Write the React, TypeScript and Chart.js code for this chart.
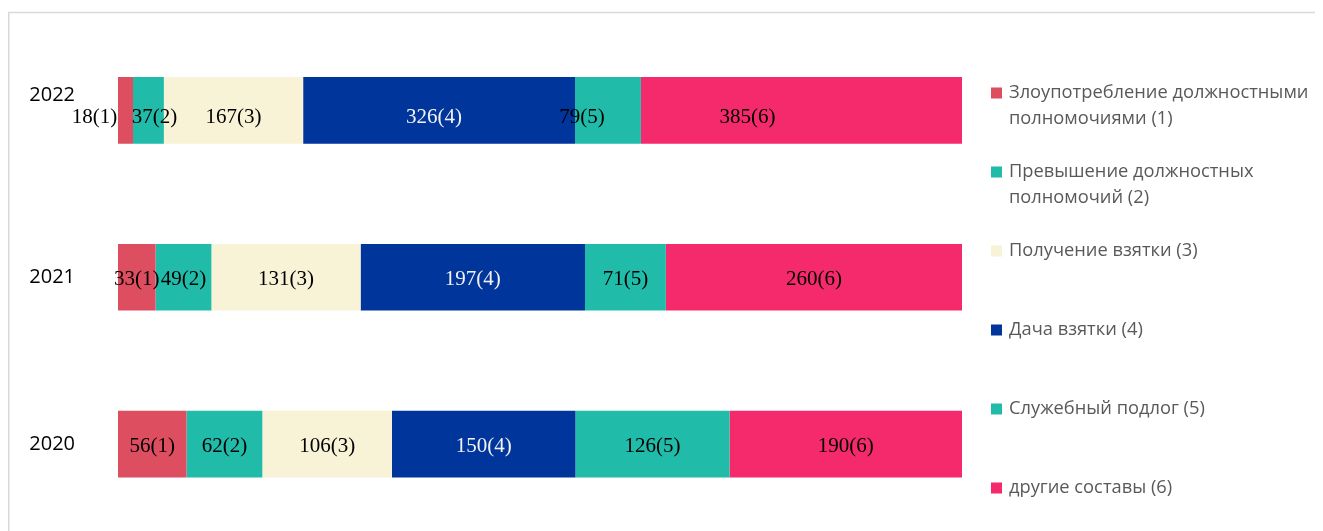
import React, { useEffect, useRef } from "react";
import { Chart, registerables } from "chart.js";

Chart.register(...registerables);

// ---- data ----
const YEARS = ["2022", "2021", "2020"];
const SERIES_NAMES = [
  "Злоупотребление должностными полномочиями (1)",
  "Превышение должностных полномочий (2)",
  "Получение взятки (3)",
  "Дача взятки (4)",
  "Служебный подлог (5)",
  "другие составы (6)",
];
const ABUSE = [18, 33, 56];
const EXCESS = [37, 49, 62];
const BRIBE_TAKING = [167, 131, 106];
const BRIBE_GIVING = [326, 197, 150];
const FORGERY = [79, 71, 126];
const OTHER = [385, 260, 190];
const SERIES_VALUES = [ABUSE, EXCESS, BRIBE_TAKING, BRIBE_GIVING, FORGERY, OTHER];

// ---- styles ----
const COLORS = ["#DC4E60", "#21BBA9", "#F8F2D7", "#00359C", "#21BBA9", "#F52A6C"];
const LABEL_COLORS = ["#000", "#000", "#000", "#f2f2f2", "#000", "#000"];
// manual label nudges for the top bar (as in the original)
const TOP_NUDGE_X = [-31, 6, 0, -5, -26, -54];

const totals = YEARS.map((_, i) => SERIES_VALUES.reduce((s, arr) => s + arr[i], 0));

const W = 1315;
const H = 523;
const SANS = "'Open Sans', 'Noto Sans', sans-serif";
const SERIF = "'Liberation Serif', 'Times New Roman', serif";

const borderPlugin = {
  id: "frame",
  beforeDraw(chart: any) {
    const ctx = chart.ctx;
    ctx.save();
    ctx.strokeStyle = "#d9d9d9";
    ctx.lineWidth = 1.5;
    ctx.beginPath();
    ctx.moveTo(0.75, H);
    ctx.lineTo(0.75, 4.5);
    ctx.lineTo(W, 4.5);
    ctx.stroke();
    ctx.restore();
  },
};

const labelPlugin = {
  id: "segLabels",
  afterDatasetsDraw(chart: any) {
    const ctx = chart.ctx;
    ctx.save();
    ctx.font = `21px ${SERIF}`;
    ctx.textAlign = "center";
    ctx.textBaseline = "middle";
    chart.data.datasets.forEach((ds: any, di: number) => {
      const meta = chart.getDatasetMeta(di);
      meta.data.forEach((bar: any, i: number) => {
        const raw = SERIES_VALUES[di][i];
        const cx = (bar.x + bar.base) / 2 + (i === 0 ? TOP_NUDGE_X[di] : 0);
        const cy = bar.y + (i === 0 ? 7 : 2);
        ctx.fillStyle = LABEL_COLORS[di];
        ctx.fillText(`${raw}(${di + 1})`, cx, cy);
      });
    });
    ctx.restore();
  },
};

function wrap(ctx: CanvasRenderingContext2D, text: string, maxW: number): string[] {
  const words = text.split(" ");
  const lines: string[] = [];
  let cur = "";
  for (const w of words) {
    const t = cur ? cur + " " + w : w;
    if (ctx.measureText(t).width > maxW && cur) {
      lines.push(cur);
      cur = w;
    } else cur = t;
  }
  if (cur) lines.push(cur);
  return lines;
}

const legendPlugin = {
  id: "sideLegend",
  afterDraw(chart: any) {
    const ctx = chart.ctx;
    ctx.save();
    ctx.font = `18.3px ${SANS}`;
    ctx.textBaseline = "middle";
    ctx.textAlign = "left";
    const x0 = 983;
    const tx = 1001;
    const top = 85;
    const step = 79;
    const lh = 25.5;
    chart.data.datasets.forEach((ds: any, di: number) => {
      const y = top + di * step;
      ctx.fillStyle = ds.backgroundColor;
      ctx.fillRect(x0, y - 5.5, 11, 11);
      ctx.fillStyle = "#595959";
      const lines = wrap(ctx, ds.label, 320);
      lines.forEach((ln, k) => ctx.fillText(ln, tx, y + k * lh));
    });
    ctx.restore();
  },
};

export default function App() {
  const ref = useRef<HTMLCanvasElement>(null);
  useEffect(() => {
    if (!ref.current) return;
    const chart = new Chart(ref.current, {
      type: "bar",
      data: {
        labels: YEARS,
        datasets: SERIES_VALUES.map((vals, di) => ({
          label: SERIES_NAMES[di],
          data: vals.map((v, i) => (v / totals[i]) * 100),
          backgroundColor: COLORS[di],
          borderWidth: 0,
          barPercentage: 0.4,
          categoryPercentage: 1,
        })),
      },
      options: {
        indexAxis: "y",
        responsive: false,
        animation: false,
        layout: { padding: { top: 19, bottom: 3.5, left: 0, right: W - 954 } },
        plugins: {
          legend: { display: false },
          tooltip: { enabled: false },
        },
        scales: {
          x: { stacked: true, display: false, min: 0, max: 100 },
          y: {
            stacked: true,
            grid: { display: false, drawTicks: false },
            border: { display: false },
            afterFit: (s: any) => {
              s.width = 110;
              s.paddingTop = 0;
              s.paddingBottom = 0;
            },
            ticks: {
              padding: 43,
              color: "#000",
              font: { family: SANS, size: 20, lineHeight: 1.5 },
              callback: (_v: any, i: number) => (i === 0 ? [YEARS[i], ""] : YEARS[i]),
            },
          },
        },
      },
      plugins: [borderPlugin, labelPlugin, legendPlugin],
    });
    return () => chart.destroy();
  }, []);
  return <canvas ref={ref} width={W} height={H} style={{ display: "block" }} />;
}
